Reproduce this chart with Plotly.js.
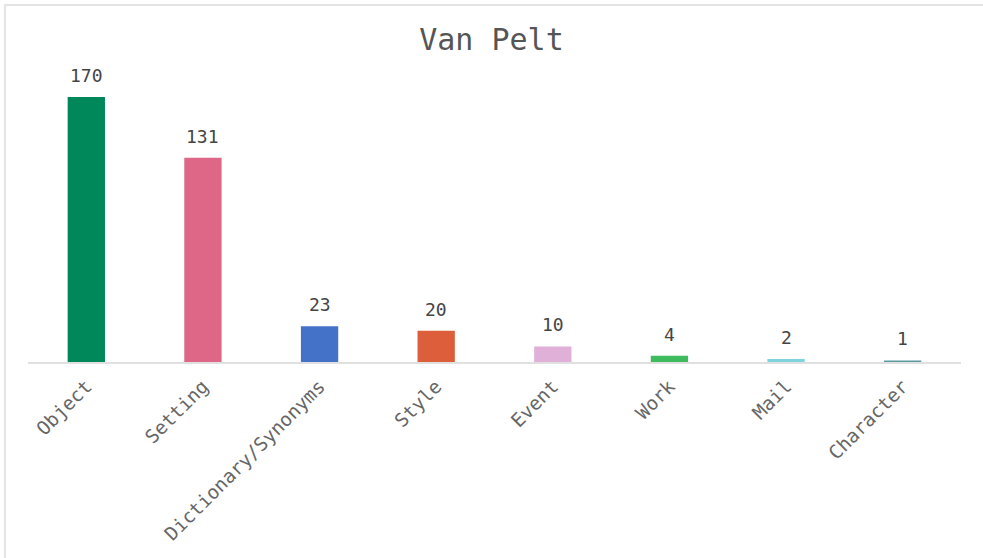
<!DOCTYPE html>
<html>
<head>
<meta charset="utf-8">
<script src="https://cdn.plot.ly/plotly-3.0.1.min.js"></script>
<style>
html,body{margin:0;padding:0;background:#fff;}
#frame{position:absolute;left:4px;top:4px;width:979px;height:554px;border-top:2px solid #e3e3e3;border-left:2px solid #e3e3e3;box-sizing:border-box;}
#chart{position:absolute;left:0;top:0;width:983px;height:558px;}
</style>
</head>
<body>
<div id="frame"></div>
<div id="chart"></div>
<script>
const categories = ["Object","Setting","Dictionary/Synonyms","Style","Event","Work","Mail","Character"];
const counts = [170,131,23,20,10,4,2,1];
const colors = ["#00875a","#de6787","#4472c8","#dc5e3a","#e0b0d8","#3dbb5d","#7fd3dc","#5a9aa0"];

const trace = {
  type: "bar",
  x: categories,
  y: counts,
  marker: {color: colors},
  hoverinfo: "x+y"
};

const labelAnnotations = categories.map((c, i) => ({
  x: c, y: counts[i], xref: "x", yref: "y",
  text: String(counts[i]), showarrow: false,
  yanchor: "bottom", yshift: 9,
  font: {family: "DejaVu Sans Mono, monospace", size: 18, color: "#444"}
}));

const layout = {
  width: 983, height: 558,
  paper_bgcolor: "rgba(0,0,0,0)",
  plot_bgcolor: "rgba(0,0,0,0)",
  margin: {l: 28, r: 22, t: 60, b: 196},
  bargap: 0.68,
  title: {text: "Van Pelt", x: 0.5, xanchor: "center", y: 0.93, yanchor: "middle",
          font: {family: "DejaVu Sans Mono, monospace", size: 30, color: "#555"}},
  xaxis: {
    tickangle: -45,
    tickfont: {family: "DejaVu Sans Mono, monospace", size: 19, color: "#666"},
    showline: true, linecolor: "#e0e0e0", linewidth: 2,
    ticks: "", showgrid: false, ticklabelstandoff: 4
  },
  yaxis: {
    range: [0, 193.7],
    visible: false, showgrid: false, zeroline: false
  },
  annotations: labelAnnotations,
  showlegend: false
};

Plotly.newPlot("chart", [trace], layout, {displayModeBar: false, staticPlot: true});
</script>
</body>
</html>
